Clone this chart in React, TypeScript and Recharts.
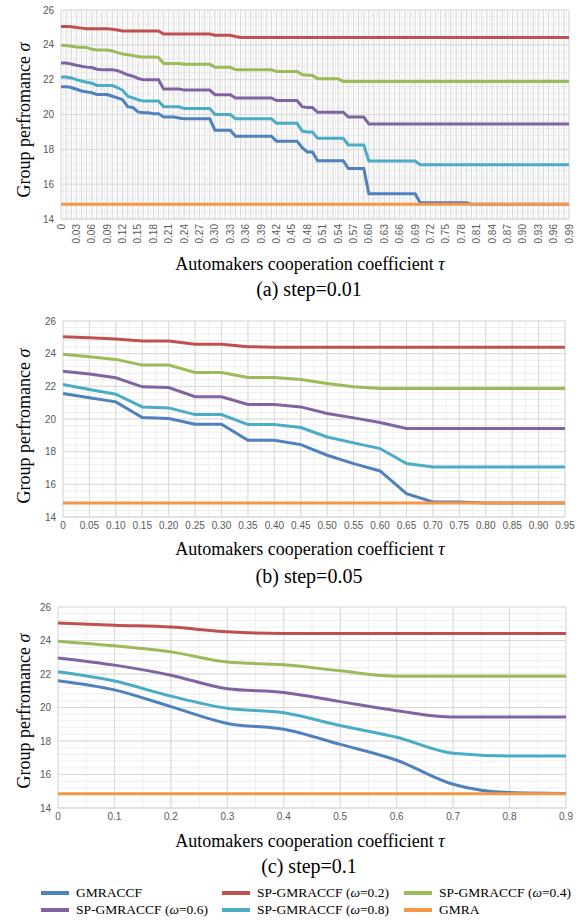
import React from "react";
import { LineChart, Line, XAxis, YAxis, CartesianGrid } from "recharts";

// series definitions (order = drawing order = legend order)
const SERIES = [
  { key: "gmraccf", label: "GMRACCF", omega: "", color: "#4F81BD" },
  { key: "sp02", label: "SP-GMRACCF", omega: "0.2", color: "#C0504D" },
  { key: "sp04", label: "SP-GMRACCF", omega: "0.4", color: "#9BBB59" },
  { key: "sp06", label: "SP-GMRACCF", omega: "0.6", color: "#8064A2" },
  { key: "sp08", label: "SP-GMRACCF", omega: "0.8", color: "#4BACC6" },
  { key: "gmra", label: "GMRA", omega: "", color: "#F79646" },
];

// ---------- (a) step = 0.01 ----------
const TAU_A = [
  0, 0.01, 0.02, 0.03, 0.04, 0.05, 0.06, 0.07, 0.08, 0.09,
  0.1, 0.11, 0.12, 0.13, 0.14, 0.15, 0.16, 0.17, 0.18, 0.19,
  0.2, 0.21, 0.22, 0.23, 0.24, 0.25, 0.26, 0.27, 0.28, 0.29,
  0.3, 0.31, 0.32, 0.33, 0.34, 0.35, 0.36, 0.37, 0.38, 0.39,
  0.4, 0.41, 0.42, 0.43, 0.44, 0.45, 0.46, 0.47, 0.48, 0.49,
  0.5, 0.51, 0.52, 0.53, 0.54, 0.55, 0.56, 0.57, 0.58, 0.59,
  0.6, 0.61, 0.62, 0.63, 0.64, 0.65, 0.66, 0.67, 0.68, 0.69,
  0.7, 0.71, 0.72, 0.73, 0.74, 0.75, 0.76, 0.77, 0.78, 0.79,
  0.8, 0.81, 0.82, 0.83, 0.84, 0.85, 0.86, 0.87, 0.88, 0.89,
  0.9, 0.91, 0.92, 0.93, 0.94, 0.95, 0.96, 0.97, 0.98, 0.99,
];
const TICKS_A = [
  0, 0.03, 0.06, 0.09, 0.12, 0.15, 0.18, 0.21, 0.24, 0.27, 0.3, 0.33,
  0.36, 0.39, 0.42, 0.45, 0.48, 0.51, 0.54, 0.57, 0.6, 0.63, 0.66, 0.69,
  0.72, 0.75, 0.78, 0.81, 0.84, 0.87, 0.9, 0.93, 0.96, 0.99,
];
const GMRACCF_A = [
  21.6, 21.6, 21.55, 21.45, 21.35, 21.3, 21.25, 21.15, 21.15, 21.15,
  21.05, 20.95, 20.85, 20.45, 20.4, 20.15, 20.1, 20.1, 20.05, 20.05,
  19.85, 19.85, 19.85, 19.8, 19.75, 19.75, 19.75, 19.75, 19.75, 19.75,
  19.1, 19.1, 19.1, 19.1, 18.75, 18.75, 18.75, 18.75, 18.75, 18.75,
  18.75, 18.75, 18.47, 18.47, 18.47, 18.47, 18.47, 18.1, 17.85, 17.85,
  17.35, 17.35, 17.35, 17.35, 17.35, 17.35, 16.9, 16.9, 16.9, 16.9,
  15.45, 15.45, 15.45, 15.45, 15.45, 15.45, 15.45, 15.45, 15.45, 15.45,
  14.93, 14.93, 14.93, 14.93, 14.93, 14.93, 14.93, 14.93, 14.93, 14.93,
  14.85, 14.85, 14.85, 14.85, 14.85, 14.85, 14.85, 14.85, 14.85, 14.85,
  14.85, 14.85, 14.85, 14.85, 14.85, 14.85, 14.85, 14.85, 14.85, 14.85,
];
const SP02_A = [
  25.05, 25.05, 25.04, 25.0, 24.96, 24.92, 24.92, 24.92, 24.92, 24.92,
  24.9, 24.85, 24.8, 24.8, 24.8, 24.8, 24.8, 24.8, 24.8, 24.8,
  24.62, 24.62, 24.62, 24.62, 24.62, 24.62, 24.62, 24.62, 24.62, 24.62,
  24.55, 24.55, 24.55, 24.55, 24.48, 24.42, 24.42, 24.42, 24.42, 24.42,
  24.42, 24.42, 24.42, 24.42, 24.42, 24.42, 24.42, 24.42, 24.42, 24.42,
  24.42, 24.42, 24.42, 24.42, 24.42, 24.42, 24.42, 24.42, 24.42, 24.42,
  24.42, 24.42, 24.42, 24.42, 24.42, 24.42, 24.42, 24.42, 24.42, 24.42,
  24.42, 24.42, 24.42, 24.42, 24.42, 24.42, 24.42, 24.42, 24.42, 24.42,
  24.42, 24.42, 24.42, 24.42, 24.42, 24.42, 24.42, 24.42, 24.42, 24.42,
  24.42, 24.42, 24.42, 24.42, 24.42, 24.42, 24.42, 24.42, 24.42, 24.42,
];
const SP04_A = [
  23.97, 23.96, 23.92, 23.87, 23.86, 23.85, 23.75, 23.7, 23.7, 23.7,
  23.65, 23.55, 23.47, 23.43, 23.38, 23.33, 23.3, 23.3, 23.3, 23.28,
  22.93, 22.93, 22.93, 22.93, 22.88, 22.88, 22.88, 22.88, 22.88, 22.88,
  22.72, 22.72, 22.72, 22.72, 22.57, 22.57, 22.57, 22.57, 22.57, 22.57,
  22.57, 22.57, 22.47, 22.47, 22.47, 22.47, 22.47, 22.3, 22.25, 22.25,
  22.05, 22.05, 22.05, 22.05, 22.05, 21.9, 21.9, 21.9, 21.9, 21.9,
  21.9, 21.9, 21.9, 21.9, 21.9, 21.9, 21.9, 21.9, 21.9, 21.9,
  21.9, 21.9, 21.9, 21.9, 21.9, 21.9, 21.9, 21.9, 21.9, 21.9,
  21.9, 21.9, 21.9, 21.9, 21.9, 21.9, 21.9, 21.9, 21.9, 21.9,
  21.9, 21.9, 21.9, 21.9, 21.9, 21.9, 21.9, 21.9, 21.9, 21.9,
];
const SP06_A = [
  22.95, 22.95, 22.9, 22.83, 22.77, 22.72, 22.7, 22.6, 22.57, 22.57,
  22.57, 22.52, 22.4, 22.28, 22.2, 22.07, 22.0, 22.0, 22.0, 22.0,
  21.47, 21.47, 21.47, 21.47, 21.4, 21.4, 21.4, 21.4, 21.4, 21.4,
  21.14, 21.14, 21.14, 21.14, 20.95, 20.95, 20.95, 20.95, 20.95, 20.95,
  20.95, 20.95, 20.8, 20.8, 20.8, 20.8, 20.8, 20.45, 20.4, 20.4,
  20.13, 20.13, 20.13, 20.13, 20.13, 20.13, 19.85, 19.85, 19.85, 19.85,
  19.45, 19.45, 19.45, 19.45, 19.45, 19.45, 19.45, 19.45, 19.45, 19.45,
  19.45, 19.45, 19.45, 19.45, 19.45, 19.45, 19.45, 19.45, 19.45, 19.45,
  19.45, 19.45, 19.45, 19.45, 19.45, 19.45, 19.45, 19.45, 19.45, 19.45,
  19.45, 19.45, 19.45, 19.45, 19.45, 19.45, 19.45, 19.45, 19.45, 19.45,
];
const SP08_A = [
  22.15, 22.15, 22.1, 22.0, 21.92, 21.85, 21.8, 21.67, 21.66, 21.66,
  21.66, 21.55, 21.4, 21.05, 20.95, 20.85, 20.77, 20.77, 20.77, 20.77,
  20.44, 20.44, 20.44, 20.44, 20.35, 20.35, 20.35, 20.35, 20.35, 20.35,
  20.0, 20.0, 20.0, 20.0, 19.75, 19.75, 19.75, 19.75, 19.75, 19.75,
  19.75, 19.75, 19.5, 19.5, 19.5, 19.5, 19.5, 19.05, 19.0, 19.0,
  18.63, 18.63, 18.63, 18.63, 18.63, 18.63, 18.25, 18.25, 18.25, 18.25,
  17.33, 17.33, 17.33, 17.33, 17.33, 17.33, 17.33, 17.33, 17.33, 17.33,
  17.12, 17.12, 17.12, 17.12, 17.12, 17.12, 17.12, 17.12, 17.12, 17.12,
  17.12, 17.12, 17.12, 17.12, 17.12, 17.12, 17.12, 17.12, 17.12, 17.12,
  17.12, 17.12, 17.12, 17.12, 17.12, 17.12, 17.12, 17.12, 17.12, 17.12,
];
const GMRA_A = [
  14.85, 14.85, 14.85, 14.85, 14.85, 14.85, 14.85, 14.85, 14.85, 14.85,
  14.85, 14.85, 14.85, 14.85, 14.85, 14.85, 14.85, 14.85, 14.85, 14.85,
  14.85, 14.85, 14.85, 14.85, 14.85, 14.85, 14.85, 14.85, 14.85, 14.85,
  14.85, 14.85, 14.85, 14.85, 14.85, 14.85, 14.85, 14.85, 14.85, 14.85,
  14.85, 14.85, 14.85, 14.85, 14.85, 14.85, 14.85, 14.85, 14.85, 14.85,
  14.85, 14.85, 14.85, 14.85, 14.85, 14.85, 14.85, 14.85, 14.85, 14.85,
  14.85, 14.85, 14.85, 14.85, 14.85, 14.85, 14.85, 14.85, 14.85, 14.85,
  14.85, 14.85, 14.85, 14.85, 14.85, 14.85, 14.85, 14.85, 14.85, 14.85,
  14.85, 14.85, 14.85, 14.85, 14.85, 14.85, 14.85, 14.85, 14.85, 14.85,
  14.85, 14.85, 14.85, 14.85, 14.85, 14.85, 14.85, 14.85, 14.85, 14.85,
];

// ---------- (b) step = 0.05 ----------
const TAU_B = [
  0, 0.05, 0.1, 0.15, 0.2, 0.25, 0.3, 0.35, 0.4, 0.45,
  0.5, 0.55, 0.6, 0.65, 0.7, 0.75, 0.8, 0.85, 0.9, 0.95,
];
const GMRACCF_B = [21.56, 21.3, 21.05, 20.09, 20.03, 19.68, 19.68, 18.7, 18.7, 18.43, 17.78, 17.27, 16.82, 15.43, 14.92, 14.92, 14.86, 14.85, 14.85, 14.85];
const SP02_B = [25.04, 24.98, 24.9, 24.77, 24.77, 24.57, 24.57, 24.43, 24.4, 24.4, 24.4, 24.4, 24.4, 24.4, 24.4, 24.4, 24.4, 24.4, 24.4, 24.4];
const SP04_B = [23.96, 23.81, 23.65, 23.3, 23.3, 22.85, 22.85, 22.54, 22.54, 22.42, 22.18, 21.97, 21.87, 21.87, 21.87, 21.87, 21.87, 21.87, 21.87, 21.87];
const SP06_B = [22.93, 22.75, 22.52, 21.97, 21.93, 21.36, 21.36, 20.89, 20.89, 20.74, 20.34, 20.07, 19.78, 19.42, 19.42, 19.42, 19.42, 19.42, 19.42, 19.42];
const SP08_B = [22.11, 21.81, 21.52, 20.74, 20.68, 20.27, 20.27, 19.66, 19.66, 19.48, 18.9, 18.54, 18.19, 17.27, 17.06, 17.06, 17.06, 17.06, 17.06, 17.06];
const GMRA_B = [14.85, 14.85, 14.85, 14.85, 14.85, 14.85, 14.85, 14.85, 14.85, 14.85, 14.85, 14.85, 14.85, 14.85, 14.85, 14.85, 14.85, 14.85, 14.85, 14.85];

// ---------- (c) step = 0.1 ----------
const TAU_C = [0, 0.1, 0.2, 0.3, 0.4, 0.5, 0.6, 0.7, 0.8, 0.9];
const GMRACCF_C = [21.6, 21.05, 20.05, 19.05, 18.7, 17.8, 16.85, 15.42, 14.92, 14.87];
const SP02_C = [25.05, 24.91, 24.8, 24.52, 24.42, 24.42, 24.42, 24.42, 24.42, 24.42];
const SP04_C = [23.96, 23.68, 23.32, 22.71, 22.55, 22.19, 21.87, 21.87, 21.87, 21.87];
const SP06_C = [22.96, 22.53, 21.93, 21.12, 20.9, 20.35, 19.81, 19.43, 19.43, 19.43];
const SP08_C = [22.13, 21.58, 20.68, 19.95, 19.69, 18.92, 18.22, 17.27, 17.11, 17.11];
const GMRA_C = [14.85, 14.85, 14.85, 14.85, 14.85, 14.85, 14.85, 14.85, 14.85, 14.85];

const Y_TICKS = [14, 16, 18, 20, 22, 24, 26];

// gridline positions (not data)
const steps = (to: number, step: number) => {
  const out: number[] = [];
  for (let i = 0; i * step <= to + 1e-9; i++) out.push(Math.round(i * step * 10000) / 10000);
  return out;
};
const Y_MINOR = steps(12, 0.4).map((v) => Math.round((14 + v) * 100) / 100);

const SERIF = '"Liberation Serif", "Times New Roman", serif';
const SANS = '"Liberation Sans", Arial, sans-serif';
const TICK_COLOR = "#595959";

type Curve = "linear" | "monotone";

interface PanelConfig {
  top: number;
  plotLeft: number;
  plotRight: number;
  plotHeight: number;
  axisHeight: number;
  tau: number[];
  values: Record<string, number[]>;
  xTicks: number[];
  minorX: number[];
  digits: number;
  rotated: boolean;
  curve: Curve;
  yTitleY: number;
  xTitleY: number;
  captionY: number;
  caption: string;
}

const fmt = (v: number, digits: number) => (v === 0 ? "0" : v.toFixed(digits));

function RotatedTick(props: any) {
  const { x, y, payload, digits } = props;
  return (
    <text
      x={x}
      y={y}
      transform={`rotate(-90, ${x}, ${y})`}
      textAnchor="end"
      dominantBaseline="central"
      fill={TICK_COLOR}
      fontSize={10}
      fontFamily={SANS}
    >
      {fmt(payload.value, digits)}
    </text>
  );
}

function Panel({ cfg }: { cfg: PanelConfig }) {
  const rows = cfg.tau.map((t, i) => {
    const row: Record<string, number> = { tau: t };
    SERIES.forEach((s) => {
      row[s.key] = cfg.values[s.key][i];
    });
    return row;
  });
  const height = 10 + cfg.plotHeight + cfg.axisHeight;
  const xMax = cfg.tau[cfg.tau.length - 1];

  return (
    <>
      <div style={{ position: "absolute", top: cfg.top - 10, left: 0 }}>
        <LineChart
          width={581}
          height={height}
          data={rows}
          margin={{ top: 10, right: 581 - cfg.plotRight, bottom: 0, left: 0 }}
        >
          <CartesianGrid verticalValues={cfg.minorX} horizontalValues={Y_MINOR} stroke="#eeeeee" />
          <CartesianGrid verticalValues={cfg.tau} horizontalValues={Y_TICKS} stroke="#d9d9d9" />
          <XAxis
            type="number"
            dataKey="tau"
            domain={[0, xMax]}
            ticks={cfg.xTicks}
            interval={0}
            height={cfg.axisHeight}
            axisLine={{ stroke: "#d9d9d9" }}
            tickLine={false}
            tickSize={0}
            tickMargin={5}
            tick={
              cfg.rotated
                ? (p: any) => <RotatedTick {...p} digits={cfg.digits} />
                : { fill: TICK_COLOR, fontSize: 10, fontFamily: SANS }
            }
            tickFormatter={(v: number) => fmt(v, cfg.digits)}
          />
          <YAxis
            domain={[14, 26]}
            ticks={Y_TICKS}
            interval={0}
            width={cfg.plotLeft}
            axisLine={false}
            tickLine={false}
            tickSize={0}
            tickMargin={7}
            tick={{ fill: TICK_COLOR, fontSize: 10, fontFamily: SANS }}
          />
          {SERIES.map((s) => (
            <Line
              key={s.key}
              type={cfg.curve}
              dataKey={s.key}
              name={s.label}
              stroke={s.color}
              strokeWidth={3}
              dot={false}
              isAnimationActive={false}
            />
          ))}
        </LineChart>
      </div>
      <div
        style={{
          position: "absolute",
          left: 24,
          top: cfg.yTitleY,
          transform: "translate(-50%, -50%) rotate(-90deg)",
          whiteSpace: "nowrap",
          fontFamily: SERIF,
          fontSize: 18,
          color: "#000",
        }}
      >
        Group perfromance <i>σ</i>
      </div>
      <div
        style={{
          position: "absolute",
          left: 310,
          top: cfg.xTitleY,
          transform: "translate(-50%, -50%)",
          whiteSpace: "nowrap",
          fontFamily: SERIF,
          fontSize: 18,
        }}
      >
        Automakers cooperation coefficient <i>τ</i>
      </div>
      <div
        style={{
          position: "absolute",
          left: 309,
          top: cfg.captionY,
          transform: "translate(-50%, -50%)",
          whiteSpace: "nowrap",
          fontFamily: SERIF,
          fontSize: 20,
        }}
      >
        {cfg.caption}
      </div>
    </>
  );
}

const PANELS: PanelConfig[] = [
  {
    top: 10,
    plotLeft: 61,
    plotRight: 569,
    plotHeight: 209,
    axisHeight: 32,
    tau: TAU_A,
    values: { gmraccf: GMRACCF_A, sp02: SP02_A, sp04: SP04_A, sp06: SP06_A, sp08: SP08_A, gmra: GMRA_A },
    xTicks: TICKS_A,
    minorX: steps(0.99, 0.005),
    digits: 2,
    rotated: true,
    curve: "linear",
    yTitleY: 120,
    xTitleY: 264,
    captionY: 289,
    caption: "(a) step=0.01",
  },
  {
    top: 321,
    plotLeft: 63,
    plotRight: 565,
    plotHeight: 196,
    axisHeight: 20,
    tau: TAU_B,
    values: { gmraccf: GMRACCF_B, sp02: SP02_B, sp04: SP04_B, sp06: SP06_B, sp08: SP08_B, gmra: GMRA_B },
    xTicks: TAU_B,
    minorX: steps(0.95, 0.025),
    digits: 2,
    rotated: false,
    curve: "linear",
    yTitleY: 426,
    xTitleY: 549,
    captionY: 576,
    caption: "(b) step=0.05",
  },
  {
    top: 607,
    plotLeft: 58,
    plotRight: 566,
    plotHeight: 201,
    axisHeight: 20,
    tau: TAU_C,
    values: { gmraccf: GMRACCF_C, sp02: SP02_C, sp04: SP04_C, sp06: SP06_C, sp08: SP08_C, gmra: GMRA_C },
    xTicks: TAU_C,
    minorX: steps(0.9, 0.05),
    digits: 1,
    rotated: false,
    curve: "monotone",
    yTitleY: 711,
    xTitleY: 841,
    captionY: 866,
    caption: "(c) step=0.1",
  },
];

function LegendBlock() {
  const cols = [41, 222, 404];
  return (
    <>
      {SERIES.map((s, i) => (
        <div
          key={s.key}
          style={{
            position: "absolute",
            left: cols[i % 3],
            top: 893 + Math.floor(i / 3) * 17,
            transform: "translateY(-50%)",
            display: "flex",
            alignItems: "center",
            whiteSpace: "nowrap",
            fontFamily: SERIF,
            fontSize: 13.5,
          }}
        >
          <span style={{ display: "inline-block", width: 28, height: 4, background: s.color, marginRight: 7 }} />
          {s.omega ? (
            <span>
              {s.label} (<i>ω</i>={s.omega})
            </span>
          ) : (
            <span>{s.label}</span>
          )}
        </div>
      ))}
    </>
  );
}

export default function App() {
  return (
    <div style={{ position: "absolute", left: 0, top: 0, width: 581, height: 920, background: "#fff" }}>
      {PANELS.map((p) => (
        <Panel key={p.caption} cfg={p} />
      ))}
      <LegendBlock />
    </div>
  );
}
